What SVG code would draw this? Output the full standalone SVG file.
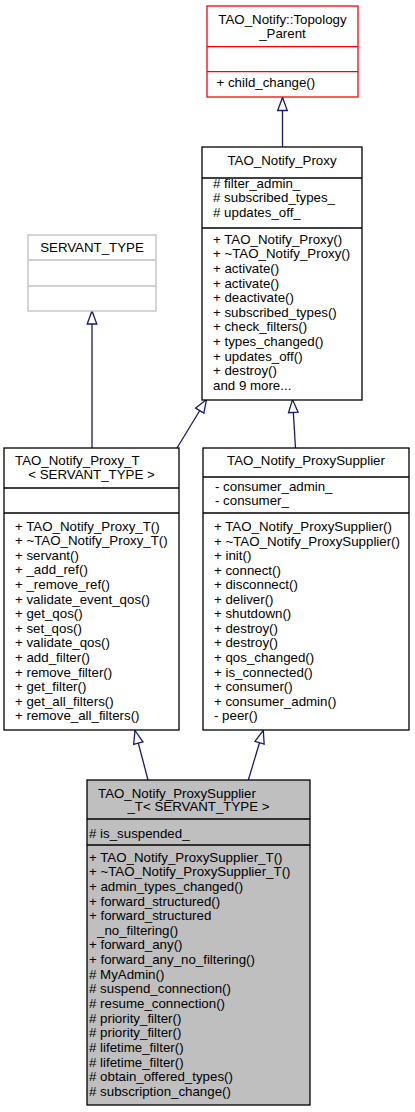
<svg xmlns="http://www.w3.org/2000/svg" width="415" height="1112" viewBox="0 0 415 1112">
<style>
text{font-family:"Liberation Sans",Arial,Helvetica,sans-serif;font-size:13.3px;fill:#000}
.m{text-anchor:middle}
.box{fill:#fff;stroke:#000;stroke-width:1.3}
.red{fill:#fff;stroke:#ff0000;stroke-width:1.3}
.gray{fill:#fff;stroke:#bfbfbf;stroke-width:1.3}
.cur{fill:#bfbfbf;stroke:#000;stroke-width:1.3}
.dv{stroke:#000;stroke-width:1.3}
.dvr{stroke:#ff0000;stroke-width:1.3}
.dvg{stroke:#bfbfbf;stroke-width:1.3}
.edge{fill:none;stroke:#191970;stroke-width:1.3}
</style>
<defs>
<marker id="tri" viewBox="-1 -7 17 14" markerWidth="17" markerHeight="14" refX="13" refY="0" orient="auto" markerUnits="userSpaceOnUse">
<path d="M0,-4.8 L13,0 L0,4.8 Z" fill="#fff" stroke="#191970" stroke-width="1.3"/>
</marker>
</defs>
<g id="connectors">
<path class="edge" d="M282.5,147 L282.5,97.5" marker-end="url(#tri)"/>
<path class="edge" d="M92,448 L92,311" marker-end="url(#tri)"/>
<path class="edge" d="M177,448 L206.5,399.5" marker-end="url(#tri)"/>
<path class="edge" d="M295.5,448 L292.5,399.5" marker-end="url(#tri)"/>
<path class="edge" d="M148,780 L135,730.5" marker-end="url(#tri)"/>
<path class="edge" d="M248.3,780 L263.3,730.3" marker-end="url(#tri)"/>
</g>
<g id="topology_parent">
<rect class="red" x="207" y="6" width="151" height="91"/>
<line class="dvr" x1="207" y1="46.7" x2="358" y2="46.7"/>
<line class="dvr" x1="207" y1="71.7" x2="358" y2="71.7"/>
<text class="m" x="282.5" y="24">TAO_Notify::Topology</text>
<text class="m" x="282.5" y="37.5">_Parent</text>
<text x="216.5" y="87">+ child_change()</text>
</g>
<g id="proxy">
<rect class="box" x="202" y="147" width="160" height="253"/>
<line class="dv" x1="202" y1="178" x2="362" y2="178"/>
<line class="dv" x1="202" y1="228" x2="362" y2="228"/>
<text class="m" x="282" y="165">TAO_Notify_Proxy</text>
<text x="213" y="187.5"># filter_admin_</text>
<text x="213" y="202.2"># subscribed_types_</text>
<text x="213" y="216.8"># updates_off_</text>
<text x="213" y="243.5">+ TAO_Notify_Proxy()</text>
<text x="213" y="258.2">+ ~TAO_Notify_Proxy()</text>
<text x="213" y="272.8">+ activate()</text>
<text x="213" y="287.5">+ activate()</text>
<text x="213" y="302.1">+ deactivate()</text>
<text x="213" y="316.8">+ subscribed_types()</text>
<text x="213" y="331.4">+ check_filters()</text>
<text x="213" y="346.1">+ types_changed()</text>
<text x="213" y="360.7">+ updates_off()</text>
<text x="213" y="375.4">+ destroy()</text>
<text x="213" y="390">and 9 more...</text>
</g>
<g id="servant_type">
<rect class="gray" x="28" y="235" width="128" height="76"/>
<line class="dvg" x1="28" y1="260" x2="156" y2="260"/>
<line class="dvg" x1="28" y1="286" x2="156" y2="286"/>
<text class="m" x="92" y="251.5">SERVANT_TYPE</text>
</g>
<g id="proxy_t">
<rect class="box" x="4" y="448" width="175" height="282"/>
<line class="dv" x1="4" y1="488" x2="179" y2="488"/>
<line class="dv" x1="4" y1="513" x2="179" y2="513"/>
<text x="15" y="465">TAO_Notify_Proxy_T</text>
<text class="m" x="91.5" y="478.5">&lt; SERVANT_TYPE &gt;</text>
<text x="15" y="530.5">+ TAO_Notify_Proxy_T()</text>
<text x="15" y="545.1">+ ~TAO_Notify_Proxy_T()</text>
<text x="15" y="559.7">+ servant()</text>
<text x="15" y="574.3">+ _add_ref()</text>
<text x="15" y="588.9">+ _remove_ref()</text>
<text x="15" y="603.5">+ validate_event_qos()</text>
<text x="15" y="618.1">+ get_qos()</text>
<text x="15" y="632.7">+ set_qos()</text>
<text x="15" y="647.3">+ validate_qos()</text>
<text x="15" y="661.9">+ add_filter()</text>
<text x="15" y="676.5">+ remove_filter()</text>
<text x="15" y="691.1">+ get_filter()</text>
<text x="15" y="705.7">+ get_all_filters()</text>
<text x="15" y="720.3">+ remove_all_filters()</text>
</g>
<g id="proxy_supplier">
<rect class="box" x="203" y="448" width="206" height="282"/>
<line class="dv" x1="203" y1="477" x2="409" y2="477"/>
<line class="dv" x1="203" y1="513" x2="409" y2="513"/>
<text class="m" x="306" y="465">TAO_Notify_ProxySupplier</text>
<text x="215" y="490.5">- consumer_admin_</text>
<text x="215" y="505">- consumer_</text>
<text x="214" y="531">+ TAO_Notify_ProxySupplier()</text>
<text x="214" y="545.6">+ ~TAO_Notify_ProxySupplier()</text>
<text x="214" y="560.1">+ init()</text>
<text x="214" y="574.7">+ connect()</text>
<text x="214" y="589.2">+ disconnect()</text>
<text x="214" y="603.8">+ deliver()</text>
<text x="214" y="618.3">+ shutdown()</text>
<text x="214" y="632.9">+ destroy()</text>
<text x="214" y="647.4">+ destroy()</text>
<text x="214" y="662">+ qos_changed()</text>
<text x="214" y="676.5">+ is_connected()</text>
<text x="214" y="691.1">+ consumer()</text>
<text x="214" y="705.6">+ consumer_admin()</text>
<text x="214" y="720.2">- peer()</text>
</g>
<g id="proxy_supplier_t">
<rect class="cur" x="87" y="780" width="223" height="325"/>
<line class="dv" x1="87" y1="819" x2="310" y2="819"/>
<line class="dv" x1="87" y1="845" x2="310" y2="845"/>
<text x="98" y="797.5">TAO_Notify_ProxySupplier</text>
<text class="m" x="198.5" y="811">_T&lt; SERVANT_TYPE &gt;</text>
<text x="89" y="837.5"># is_suspended_</text>
<text x="89" y="861.5">+ TAO_Notify_ProxySupplier_T()</text>
<text x="89" y="876.2">+ ~TAO_Notify_ProxySupplier_T()</text>
<text x="89" y="890.8">+ admin_types_changed()</text>
<text x="89" y="905.5">+ forward_structured()</text>
<text x="89" y="920.1">+ forward_structured</text>
<text x="97" y="934.8">_no_filtering()</text>
<text x="89" y="949.4">+ forward_any()</text>
<text x="89" y="964.1">+ forward_any_no_filtering()</text>
<text x="89" y="978.7"># MyAdmin()</text>
<text x="89" y="993.4"># suspend_connection()</text>
<text x="89" y="1008"># resume_connection()</text>
<text x="89" y="1022.7"># priority_filter()</text>
<text x="89" y="1037.3"># priority_filter()</text>
<text x="89" y="1052"># lifetime_filter()</text>
<text x="89" y="1066.6"># lifetime_filter()</text>
<text x="89" y="1081.3"># obtain_offered_types()</text>
<text x="89" y="1095.9"># subscription_change()</text>
</g>
</svg>
